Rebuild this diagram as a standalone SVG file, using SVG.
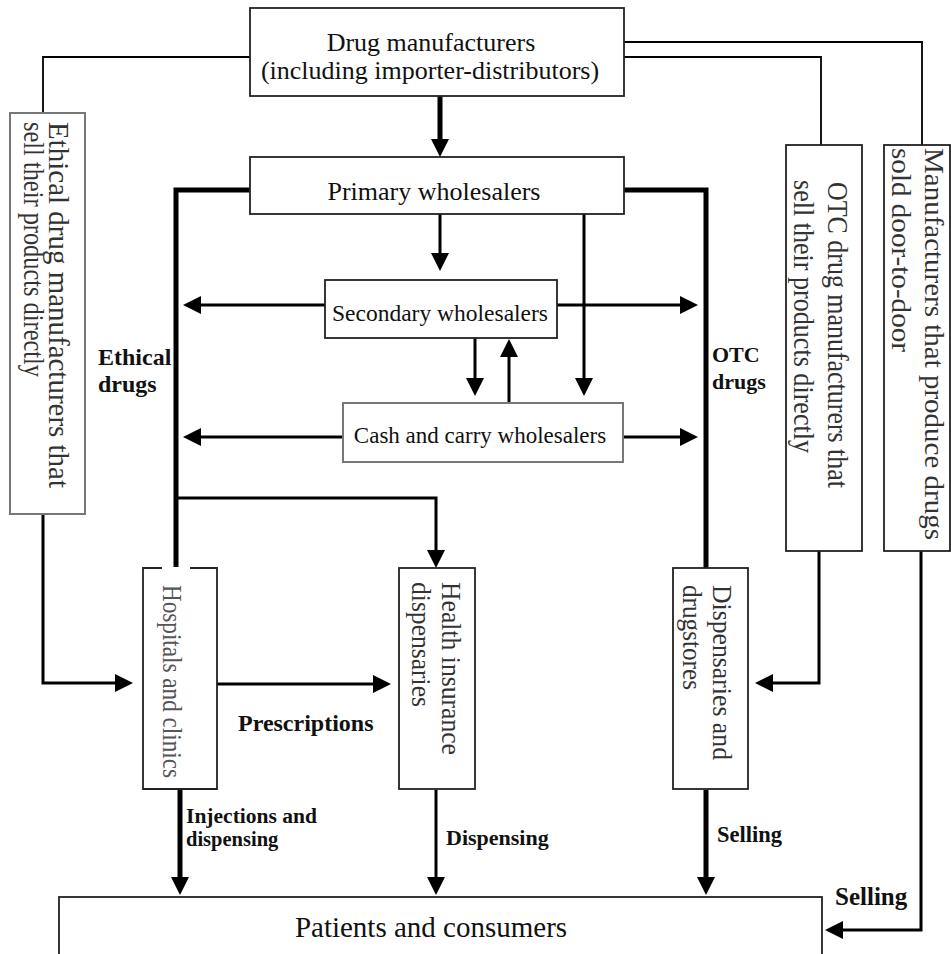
<svg xmlns="http://www.w3.org/2000/svg" width="951" height="954" viewBox="0 0 951 954">
<style>
text{font-family:"Liberation Serif","Times New Roman",serif;fill:#111}
.box{fill:#fff;stroke:#222;stroke-width:1.8}
.gbox{fill:#fff;stroke:#777;stroke-width:2}
.c{fill:none;stroke:#000;stroke-linejoin:miter}
.thin{stroke-width:1.8}
.med{stroke-width:3}
.thick{stroke-width:5}
.lbl{font-weight:bold}
.v{fill:#333}
</style>
<defs>
<marker id="ah" viewBox="0 0 18 18" refX="1" refY="9" markerWidth="18" markerHeight="18" markerUnits="userSpaceOnUse" orient="auto">
<path d="M0,0 L18,9 L0,18 z" fill="#000"/>
</marker>
</defs>
<rect width="951" height="954" fill="#fff"/>

<g id="connectors">
<path class="c thin" d="M250,57 H43 V113"/>
<path class="c thin" d="M624,42 H922 V145"/>
<path class="c thin" d="M624,57 H821 V145"/>
<path class="c thick" d="M440,96 V140" marker-end="url(#ah)"/>
<path class="c med" d="M440,214 V254" marker-end="url(#ah)"/>
<path class="c thick" d="M250,190 H176 V567"/>
<path class="c thick" d="M624,190 H706 V568"/>
<path class="c med" d="M325,305 H200" marker-end="url(#ah)"/>
<path class="c med" d="M557,305 H681" marker-end="url(#ah)"/>
<path class="c med" d="M584,214 V379" marker-end="url(#ah)"/>
<path class="c med" d="M475,338 V379" marker-end="url(#ah)"/>
<path class="c med" d="M509,403 V356" marker-end="url(#ah)"/>
<path class="c med" d="M343,437 H200" marker-end="url(#ah)"/>
<path class="c med" d="M623,437 H681" marker-end="url(#ah)"/>
<path class="c med" d="M176,498 H436 V551" marker-end="url(#ah)"/>
<path class="c med" d="M43,514 V683 H116" marker-end="url(#ah)"/>
<path class="c med" d="M217,684 H374" marker-end="url(#ah)"/>
<path class="c thick" d="M180,790 V878" marker-end="url(#ah)"/>
<path class="c med" d="M436,790 V878" marker-end="url(#ah)"/>
<path class="c thick" d="M706,790 V878" marker-end="url(#ah)"/>
<path class="c med" d="M819,551 V683 H772" marker-end="url(#ah)"/>
<path class="c med" d="M921,551 V930 H842" marker-end="url(#ah)"/>
<text class="lbl" x="98" y="365" font-size="24">Ethical</text>
<text class="lbl" x="98" y="392" font-size="24">drugs</text>
<text class="lbl" x="712" y="362" font-size="22">OTC</text>
<text class="lbl" x="712" y="389" font-size="22">drugs</text>
<text class="lbl" x="238" y="731" font-size="24">Prescriptions</text>
<text class="lbl" x="186" y="823" font-size="20.5" textLength="131" lengthAdjust="spacingAndGlyphs">Injections and</text>
<text class="lbl" x="186" y="846" font-size="20.5">dispensing</text>
<text class="lbl" x="446" y="845" font-size="22">Dispensing</text>
<text class="lbl" x="717" y="842" font-size="22.5">Selling</text>
<text class="lbl" x="835" y="905" font-size="25">Selling</text>
</g>

<g id="manufacturers">
<rect class="box" x="250" y="8" width="374" height="88"/>
<text x="431" y="51" font-size="26" text-anchor="middle">Drug manufacturers</text>
<text x="430" y="79" font-size="26" text-anchor="middle">(including importer-distributors)</text>
</g>

<g id="primary">
<rect class="box" x="250" y="157" width="374" height="57"/>
<text x="434" y="200" font-size="26" text-anchor="middle">Primary wholesalers</text>
</g>

<g id="secondary">
<rect class="box" x="325" y="280" width="232" height="58"/>
<text x="440" y="321" font-size="23.5" text-anchor="middle">Secondary wholesalers</text>
</g>

<g id="cashcarry">
<rect class="gbox" x="343" y="403" width="280" height="59"/>
<text x="480" y="443" font-size="23" text-anchor="middle">Cash and carry wholesalers</text>
</g>

<g id="ethical-mfr">
<rect class="gbox" x="10" y="113" width="75" height="401"/>
<text class="v" transform="translate(49,122) rotate(90)" font-size="29" textLength="366" lengthAdjust="spacingAndGlyphs">Ethical drug manufacturers that</text>
<text class="v" transform="translate(24,122) rotate(90)" font-size="29" textLength="255" lengthAdjust="spacingAndGlyphs">sell their products directly</text>
</g>

<g id="otc-mfr">
<rect class="box" x="786" y="145" width="76" height="406"/>
<text class="v" transform="translate(828,182) rotate(90)" font-size="29" textLength="306" lengthAdjust="spacingAndGlyphs">OTC drug manufacturers that</text>
<text class="v" transform="translate(794,180) rotate(90)" font-size="29" textLength="273" lengthAdjust="spacingAndGlyphs">sell their products directly</text>
</g>

<g id="door-to-door">
<rect class="box" x="884" y="145" width="66" height="406"/>
<text class="v" transform="translate(925,148) rotate(90)" font-size="28" textLength="392" lengthAdjust="spacingAndGlyphs">Manufacturers that produce drugs</text>
<text class="v" transform="translate(892,148) rotate(90)" font-size="28" textLength="204" lengthAdjust="spacingAndGlyphs">sold door-to-door</text>
</g>

<g id="hospitals">
<path class="box" d="M162,568 H143 V789 H217 V568 H190"/>
<text class="v" style="fill:#555" transform="translate(163,585) rotate(90)" font-size="27" textLength="193" lengthAdjust="spacingAndGlyphs">Hospitals and clinics</text>
</g>

<g id="health-insurance">
<rect class="box" x="399" y="568" width="76" height="221"/>
<text class="v" transform="translate(442,582) rotate(90)" font-size="28" textLength="173" lengthAdjust="spacingAndGlyphs">Health insurance</text>
<text class="v" transform="translate(412,582) rotate(90)" font-size="28" textLength="125" lengthAdjust="spacingAndGlyphs">dispensaries</text>
</g>

<g id="dispensaries">
<rect class="box" x="673" y="568" width="75" height="221"/>
<text class="v" transform="translate(713,585) rotate(90)" font-size="28" textLength="175" lengthAdjust="spacingAndGlyphs">Dispensaries and</text>
<text class="v" transform="translate(683,585) rotate(90)" font-size="28" textLength="105" lengthAdjust="spacingAndGlyphs">drugstores</text>
</g>

<g id="patients">
<rect class="box" x="59" y="897" width="763" height="80"/>
<text x="431" y="937" font-size="29" text-anchor="middle">Patients and consumers</text>
</g>
</svg>
